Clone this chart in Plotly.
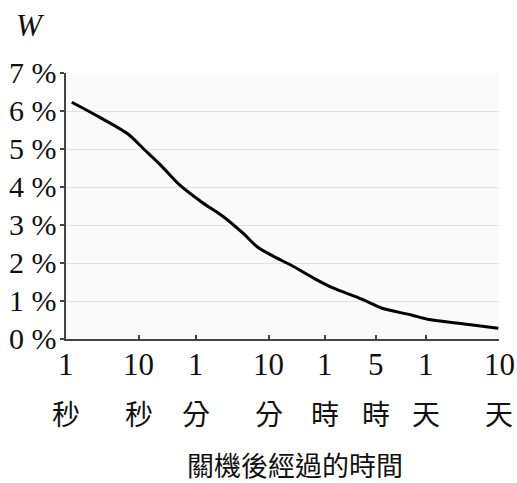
import numpy as np
import plotly.graph_objects as go

# elapsed time after shutdown (seconds) and remaining heat W (%)
time_s = [1.2, 2.4, 7.0, 11.9, 20, 34.5, 73, 141, 272, 422, 724, 1225, 2546,
          4730, 9600, 15100, 21600, 54500, 91000, 256000, 845000]
w_pct = [6.23, 5.92, 5.40, 4.98, 4.57, 4.09, 3.60, 3.23, 2.77, 2.42, 2.16, 1.94,
         1.59, 1.33, 1.11, 0.94, 0.81, 0.63, 0.52, 0.41, 0.28]

tick_seconds = [1, 10, 60, 600, 3600, 18000, 86400, 864000]
tick_numbers = ["1", "10", "1", "10", "1", "5", "1", "10"]
tick_units = ["秒", "秒", "分", "分", "時", "時", "天", "天"]

y_ticks = [0, 1, 2, 3, 4, 5, 6, 7]
y_tick_text = [f"{v} %" for v in y_ticks]

x_title = "關機後經過的時間"
y_title = "W"

SERIF = "Liberation Serif, Times New Roman, serif"
CJK = "Noto Sans CJK TC, Noto Sans CJK JP, sans-serif"

fig = go.Figure()
fig.add_trace(go.Scatter(
    x=time_s, y=w_pct, mode="lines",
    line=dict(color="black", width=3, shape="spline", smoothing=0.8),
    showlegend=False, hoverinfo="skip",
))

fig.update_layout(
    width=517, height=483,
    margin=dict(l=66, r=18, t=73, b=144),
    paper_bgcolor="white", plot_bgcolor="#fafafa",
    xaxis=dict(
        type="log", range=[0, np.log10(tick_seconds[-1])],
        tickmode="array", tickvals=tick_seconds, showticklabels=False,
        ticks="inside", ticklen=4, tickcolor="#444", tickwidth=1.5,
        showline=True, linecolor="#444", linewidth=1.5,
        showgrid=False, zeroline=False, automargin=False,
    ),
    yaxis=dict(
        range=[0, 7],
        tickmode="array", tickvals=y_ticks, showticklabels=False,
        ticks="outside", ticklen=4, tickcolor="#444", tickwidth=1.5,
        showline=True, linecolor="#444", linewidth=1.5,
        showgrid=True, gridcolor="#e2e2e2", gridwidth=1,
        zeroline=False, automargin=False,
    ),
)

annotations = []
for v, txt in zip(y_ticks, y_tick_text):
    annotations.append(dict(
        x=0, xref="paper", y=v, yref="y", text=txt, showarrow=False,
        xanchor="right", yanchor="middle", xshift=-7, yshift=1,
        font=dict(family=SERIF, size=30, color="#111"),
    ))
for t, n, u in zip(tick_seconds, tick_numbers, tick_units):
    annotations.append(dict(
        x=np.log10(t), xref="x", y=0, yref="paper",
        text=n, showarrow=False, xanchor="center", yanchor="middle",
        yshift=-25, font=dict(family=SERIF, size=31, color="#111"),
    ))
    annotations.append(dict(
        x=np.log10(t), xref="x", y=0, yref="paper",
        text=u, showarrow=False, xanchor="center", yanchor="middle",
        yshift=-74, font=dict(family=CJK, size=28, color="#111"),
    ))
annotations.append(dict(
    x=0.529, xref="paper", y=0, yref="paper", text=x_title,
    showarrow=False, xanchor="center", yanchor="middle", yshift=-125,
    font=dict(family=CJK, size=27, color="#111"),
))
annotations.append(dict(
    x=-0.081, xref="paper", y=1.18, yref="paper", text=f"<i>{y_title}</i>",
    showarrow=False, xanchor="center", yanchor="middle",
    font=dict(family=SERIF, size=31, color="#111"),
))
fig.update_layout(annotations=annotations)

fig.write_html(
    "out.html",
    config={"displayModeBar": False},
    post_script="document.body.style.margin='0';"
                "document.documentElement.style.overflow='hidden';",
)
